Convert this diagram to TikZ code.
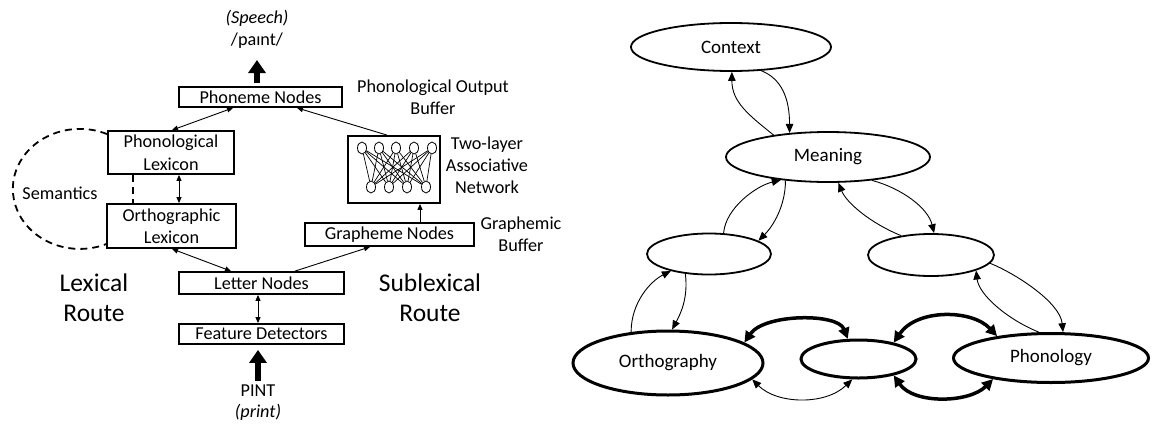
\documentclass[tikz,border=0pt]{standalone}
\usepackage{fontspec}
\setmainfont{Carlito}
\usetikzlibrary{arrows.meta,shapes.geometric,calc}
\begin{document}
\begin{tikzpicture}[x=1pt,y=-1pt,
  box/.style={draw, line width=1.8pt, inner sep=0pt, align=center, font=\fontsize{18.2}{22.5}\selectfont},
  lbl/.style={align=center, font=\fontsize{18.2}{22}\selectfont, inner sep=0pt},
  route/.style={align=center, font=\fontsize{25.5}{30}\selectfont, inner sep=0pt},
  tarr/.style={line width=0.9pt, -{Triangle[length=6pt,width=5pt]}},
  tarrb/.style={line width=0.9pt, {Triangle[length=6pt,width=5pt]}-{Triangle[length=6pt,width=5pt]}},
  big/.style={line width=6pt, -{Triangle[length=13pt,width=17pt]}},
  ell/.style={draw, ellipse, line width=1.8pt, inner sep=0pt, font=\fontsize{19}{22}\selectfont},
  ellb/.style={ell, line width=3pt},
  rarr/.style={line width=0.9pt, -{Triangle[length=9pt,width=7.5pt]}},
  rarrb/.style={line width=0.9pt, {Triangle[length=9pt,width=7.5pt]}-{Triangle[length=9pt,width=7.5pt]}},
  rbold/.style={line width=3.5pt, line join=round, {Triangle[length=11pt,width=11pt]}-{Triangle[length=11pt,width=11pt]}},
  neur/.style={draw, ellipse, line width=0.8pt, minimum width=9pt, minimum height=12pt, inner sep=0pt},
  semdash/.style={line width=1.8pt, dash pattern=on 7pt off 5pt}
]
\useasboundingbox (0,0) rectangle (1157,426);

% ---------------- left diagram ----------------
\node[box, minimum width=163pt, minimum height=20pt] (PN) at (260.5,97) {Phoneme Nodes};
\node[box, minimum width=126pt, minimum height=43pt] (PL) at (171,152.5) {Phonological\\Lexicon};
\node[box, minimum width=129pt, minimum height=44pt] (OL) at (171.5,226) {Orthographic\\Lexicon};
\node[box, minimum width=165pt, minimum height=22pt] (LN) at (261.5,283) {Letter Nodes};
\node[box, minimum width=165pt, minimum height=20pt] (FD) at (261.5,334) {Feature Detectors};
\node[box, minimum width=169pt, minimum height=23pt] (GN) at (389.5,234.5) {Grapheme Nodes};
\node[draw, line width=1.8pt, minimum width=92pt, minimum height=67pt, inner sep=0pt] (NET) at (394,169.5) {};
\foreach \x [count=\i] in {362,379,396,414,432} \node[neur] (t\i) at (\x,148) {};
\foreach \x [count=\i] in {371,389,407,426} \node[neur] (b\i) at (\x,187) {};
\foreach \i in {1,...,5} \foreach \j in {1,...,4} \draw[line width=0.7pt] (t\i) -- (b\j);

\node[lbl] (sp) at (257,18) {\textit{(Speech)}};
\node[lbl] (ipa) at (257,41) {/paɪnt/};
\coordinate (spk) at (257,60);
\draw[big] ([xshift=-3.5pt,yshift=3pt]PN.north) -- (spk);

\node[lbl] (pob) at (433,97) {Phonological Output\\Buffer};
\node[lbl] (tla) at (487,165) {Two-layer\\Associative\\Network};
\node[lbl] (gb) at (521,234) {Graphemic\\Buffer};
\node[route] (lr) at (94,298) {Lexical\\Route};
\node[route] (sr) at (430,298) {Sublexical\\Route};
\node[lbl] (sem) at (60,193) {Semantics};
\node[lbl] (pint) at (258,391) {PINT};
\node[lbl] (prt) at (258,412) {\textit{(print)}};
\coordinate (pk) at (258,381);
\draw[big] (pk) -- ([xshift=-3.5pt,yshift=-5pt]FD.south);

\draw[tarrb] ([xshift=-27.5pt]PN.south) -- ([xshift=1pt]PL.north);
\draw[tarr] ([xshift=-7pt]NET.north) -- ([xshift=36.5pt]PN.south);
\draw[tarrb] ([xshift=8pt]PL.south) -- ([xshift=7.5pt]OL.north);
\draw[semdash] ([xshift=-38pt]PL.south) -- ([xshift=-38.5pt]OL.north);
\draw[semdash] ($(PL.north west)+(0,4)$) arc[start angle=-66, end angle=-294, x radius=67, y radius=60];
\draw[tarrb] ([xshift=0.5pt]OL.south) -- ([xshift=-30.5pt]LN.north);
\draw[tarr] ([xshift=33.5pt]LN.north) -- ([xshift=-19.5pt]GN.south);
\draw[tarr] ([xshift=30.5pt]GN.north) -- ([xshift=26pt]NET.south);
\draw[tarrb] ([xshift=-3.5pt]LN.south) -- ([xshift=-3.5pt]FD.north);

% ---------------- right diagram ----------------
\node[ell, minimum width=200pt, minimum height=48pt] (Ctx) at (731,47) {Context};
\node[ell, minimum width=204pt, minimum height=50pt] (Mng) at (828,157) {Meaning};
\node[ell, minimum width=124pt, minimum height=41pt] (LM) at (709,254) {};
\node[ell, minimum width=126pt, minimum height=42pt] (RM) at (931,255) {};
\node[ellb, minimum width=190pt, minimum height=64pt] (Orth) at (668,363) {Orthography};
\node[ellb, minimum width=115pt, minimum height=38pt] (MB) at (858.5,359) {};
\node[ellb, minimum width=195pt, minimum height=49pt] (Phon) at (1051,358) {Phonology};

\draw[rarr] (Ctx.-38) .. controls ($(Ctx.-38)+(20,8)$) and ($(Mng.148)+(0,-35)$) .. (Mng.148);
\draw[rarr] (Mng.158) .. controls ($(Mng.158)+(-25,-20)$) and ($(Ctx.-88)+(0,30)$) .. (Ctx.-88);
\draw[rarr] (LM.55) .. controls ($(LM.55)+(2,-25)$) and ($(Mng.-154)+(-25,6)$) .. (Mng.-154);
\draw[rarr] (Mng.-151) .. controls ($(Mng.-151)+(0,25)$) and ($(LM.15)+(15,-15)$) .. (LM.15);
\draw[rarr] (Mng.-28) .. controls ($(Mng.-28)+(30,8)$) and ($(RM.82)+(-6,-25)$) .. (RM.82);
\draw[rarr] (RM.147) .. controls ($(RM.147)+(-30,-12)$) and ($(Mng.-68)+(8,20)$) .. (Mng.-68);
\draw[rarr] (RM.-8) .. controls ($(RM.-8)+(25,10)$) and ($(Phon.65)+(-3,-30)$) .. (Phon.65);
\draw[rarr] (Phon.115) .. controls ($(Phon.115)+(-30,-12)$) and ($(RM.-19)+(3,25)$) .. (RM.-19);
\draw[rarr] (Orth.140) .. controls ($(Orth.140)+(0,-30)$) and ($(LM.-156)+(-20,10)$) .. (LM.-156);
\draw[rarr] (LM.-140) .. controls ($(LM.-140)+(3,25)$) and ($(Orth.83)+(8,-15)$) .. (Orth.83);
\draw[rbold] (Orth.15) .. controls ($(Orth.15)+(20,-29)$) and ($(MB.118)+(-10,-26)$) .. (MB.118);
\draw[rarrb] (MB.-107) .. controls ($(MB.-107)+(-27,26)$) and ($(Orth.-11)+(25,25)$) .. (Orth.-11);
\draw[rbold] (MB.25) .. controls ($(MB.25)+(23,-34)$) and ($(Phon.158)+(-25,-27)$) .. (Phon.158);
\draw[rbold] (MB.-25) .. controls ($(MB.-25)+(20,29)$) and ($(Phon.-160)+(-24,24)$) .. (Phon.-160);
\end{tikzpicture}
\end{document}
